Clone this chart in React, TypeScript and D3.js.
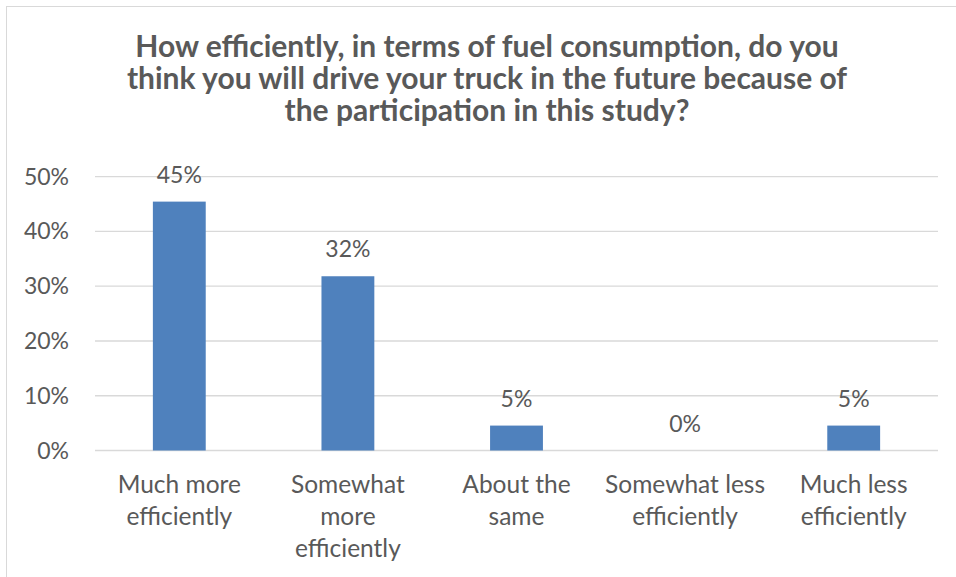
import React from "react";
import * as d3 from "d3";

const titleLines = [
  "How efficiently, in terms of fuel consumption, do you",
  "think you will drive your truck in the future because of",
  "the participation in this study?",
];
const categories = [
  "Much more efficiently",
  "Somewhat more efficiently",
  "About the same",
  "Somewhat less efficiently",
  "Much less efficiently",
];
const categoryLines = [
  ["Much more", "efficiently"],
  ["Somewhat", "more", "efficiently"],
  ["About the", "same"],
  ["Somewhat less", "efficiently"],
  ["Much less", "efficiently"],
];
const values = [45.45, 31.82, 4.55, 0, 4.55];
const valueLabels = ["45%", "32%", "5%", "0%", "5%"];
const yTicks = [0, 10, 20, 30, 40, 50];

const FONT = "Lato, 'Open Sans', sans-serif";
const TEXT = "#595959";

export default function App() {
  const W = 956;
  const H = 577;
  const x = d3.scaleBand<string>().domain(categories).range([95, 938]).padding(0);
  const y = d3.scaleLinear().domain([0, 50]).range([450.5, 176.7]);
  const barW = x.bandwidth() / 3.19;

  return (
    <svg
      width={W}
      height={H}
      style={{ position: "absolute", left: 0, top: 0, background: "#fff" }}
      fontFamily={FONT}
    >
      <rect x={0} y={0} width={W} height={H} fill="#fff" />
      <rect x={6.5} y={6.5} width={1000} height={700} fill="#fff" stroke="#D9D9D9" strokeWidth={1} />
      <text x={487} y={57} textAnchor="middle" fontWeight="bold" fontSize={30} fill={TEXT}>
        {titleLines.map((t, i) => (
          <tspan key={i} x={487} dy={i === 0 ? 0 : 31.8}>
            {t}
          </tspan>
        ))}
      </text>
      {yTicks.map((t) => (
        <g key={t}>
          <line x1={95} x2={938} y1={y(t)} y2={y(t)} stroke="#D9D9D9" strokeWidth={1.3} />
          <text x={69} y={y(t) + 8} textAnchor="end" fontSize={23} fill={TEXT}>
            {t}%
          </text>
        </g>
      ))}
      {categories.map((c, i) => {
        const cx = (x(c) as number) + x.bandwidth() / 2;
        return (
          <g key={c}>
            {values[i] > 0 && (
              <rect
                x={cx - barW / 2}
                y={y(values[i])}
                width={barW}
                height={y(0) - y(values[i])}
                fill="#4F81BD"
              />
            )}
            <text x={cx} y={y(values[i]) - 19} textAnchor="middle" fontSize={23} fill={TEXT}>
              {valueLabels[i]}
            </text>
            <text x={cx} y={493} textAnchor="middle" fontSize={24.5} fill={TEXT}>
              {categoryLines[i].map((l, j) => (
                <tspan key={j} x={cx} dy={j === 0 ? 0 : 32}>
                  {l}
                </tspan>
              ))}
            </text>
          </g>
        );
      })}
    </svg>
  );
}
